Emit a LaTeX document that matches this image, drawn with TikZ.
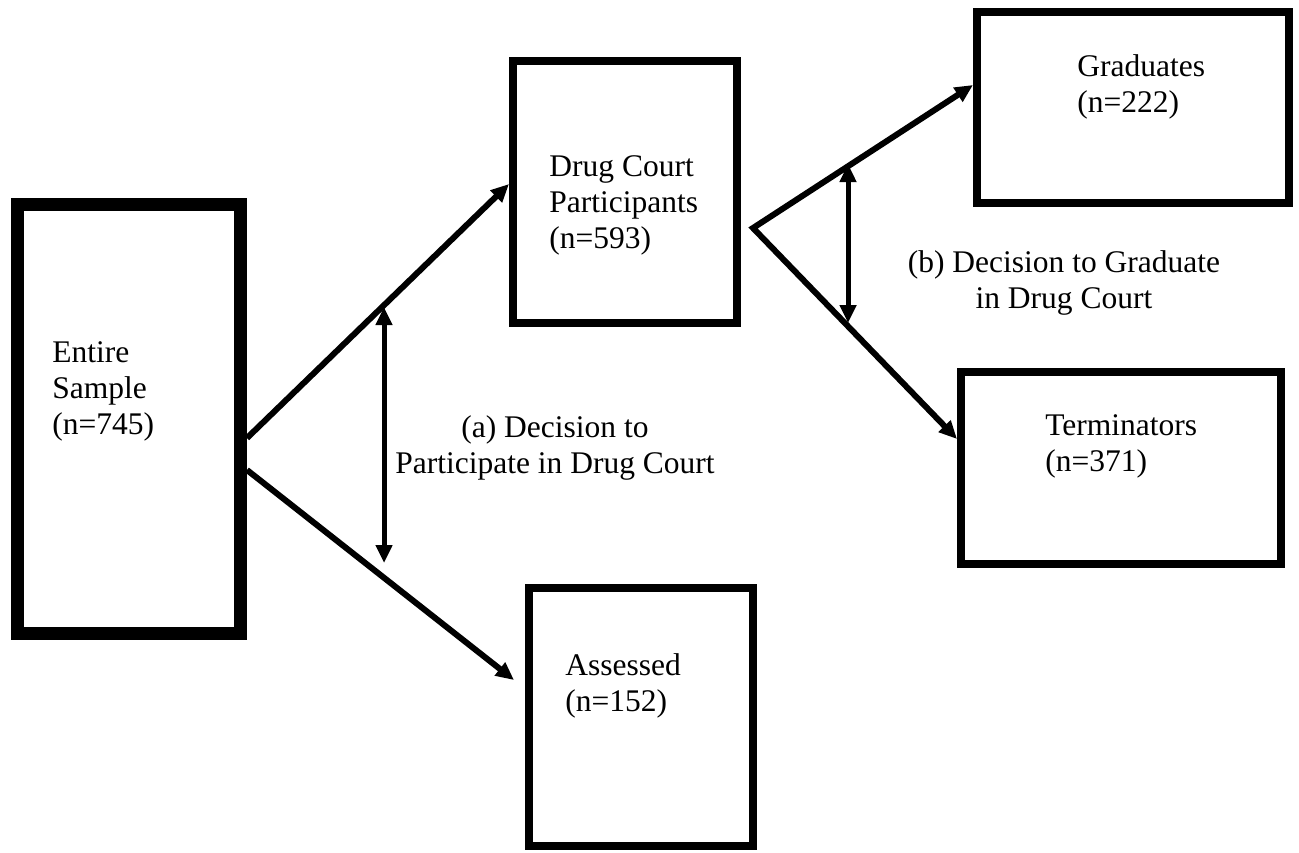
\documentclass[tikz,border=0pt]{standalone}
\usepackage{fontspec}
\setmainfont{Liberation Serif}
\usetikzlibrary{arrows.meta,calc}
\tikzset{
  arr/.tip={Triangle[length=9pt,width=8pt]},
  box/.style={draw, line width=4pt, inner sep=0pt},
  txt/.style={inner sep=0pt, align=left, font=\fontsize{15.75}{18}\selectfont},
  conn/.style={line width=3pt, -arr},
  span/.style={line width=2.5pt, arr-arr}
}
\begin{document}
\begin{tikzpicture}[x=0.5pt,y=-0.5pt]
				\fill[white] (0,0) rectangle (1299,852);
				\useasboundingbox (0,0) rectangle (1299,852);
				% boxes
				\node[box, line width=6.5pt, minimum width=111.5pt, minimum height=214.5pt] (entire) at (129,419) {};
				\node[box, minimum width=112pt, minimum height=131pt] (dc) at (625,192) {};
				\node[box, minimum width=156pt, minimum height=95.5pt] (grad) at (1133,107.5) {};
				\node[box, minimum width=160pt, minimum height=96pt] (term) at (1121,468) {};
				\node[box, minimum width=112pt, minimum height=129pt] (assessed) at (641,717) {};
				% box texts
				\node[txt, anchor=north west] (entiretxt) at (52,341) {Entire\\Sample\\(n=745)};
				\node[txt, anchor=north west] (dctxt) at (549,155) {Drug Court\\Participants\\(n=593)};
				\node[txt, anchor=north west] (gradtxt) at (1077,54) {Graduates\\(n=222)};
				\node[txt, anchor=north west] (termtxt) at (1045,414) {Terminators\\(n=371)};
				\node[txt, anchor=north west] (assessedtxt) at (565,653) {Assessed\\(n=152)};
				% connectors
				\coordinate (fork) at (753,228);
				\draw[conn] ($(entire.east)+(0,19)$) -- ($(dc.west)+(0,-8)$);
				\draw[conn] ($(entire.east)+(0,51)$) -- ($(assessed.west)+(-11,-37)$);
				\draw[conn, arr-arr] ($(grad.west)+(0,-22.5)$) -- (fork) -- ($(term.west)+(0,-29)$);
				% decisions
				\coordinate (atop) at (384,307);
				\coordinate (abot) at (384,563);
				\draw[span] (atop) -- (abot);
				\node[txt, align=center, anchor=north] (alabel) at (555,415) {(a) Decision to\\Participate in Drug Court};
				\coordinate (btop) at (848,164);
				\coordinate (bbot) at (848,323);
				\draw[span] (btop) -- (bbot);
				\node[txt, align=center, anchor=north] (blabel) at (1064,250) {(b) Decision to Graduate\\in Drug Court};
\end{tikzpicture}
\end{document}
